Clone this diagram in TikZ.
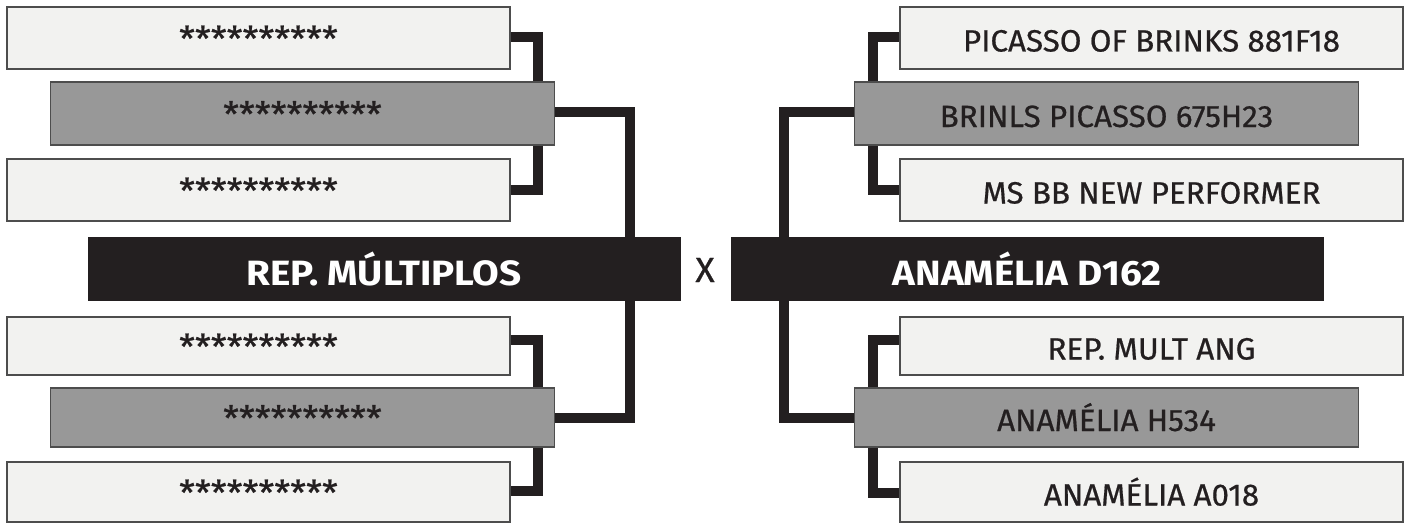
\documentclass[tikz,border=0pt]{standalone}
\usepackage{fontspec}
\setmainfont{Fira Sans}
\newfontfamily\seedfont{Fira Sans}[FakeStretch=1.02, FakeBold=0.6]
\newfontfamily\finalfont{Fira Sans}[FakeStretch=1.1]
\usetikzlibrary{calc,backgrounds}
\definecolor{ink}{HTML}{231F20}
\definecolor{pale}{HTML}{F2F2F0}
\definecolor{mid}{HTML}{989898}
\definecolor{rim}{HTML}{4D4D4D}

\begin{document}
\begin{tikzpicture}[x=0.02cm, y=-0.02cm,
      seed/.style={draw=rim, line width=0.7pt, fill=pale, minimum width=10.06cm, minimum height=1.24cm,
                   inner sep=0pt, text=ink, font=\seedfont\fontsize{17.5}{17.5}\selectfont,
                   text height=0.54cm, text depth=0pt},
      winner/.style={seed, fill=mid, minimum width=10.08cm, minimum height=1.26cm},
      masked/.style={font=\seedfont\fontsize{20}{20}\selectfont},
      finalist/.style={draw=ink, fill=ink, minimum width=11.84cm, minimum height=1.26cm, inner sep=0pt,
                       text=white, font=\finalfont\bfseries\fontsize{20}{20}\selectfont,
                       text height=0.66cm, text depth=0pt},
      link/.style={draw=ink, line width=0.2cm}
    ]
      \useasboundingbox (0,0) rectangle (1408,524);

      % Left bracket
      \node[seed, masked] (l1) at (258.5, 38) {**********};
      \node[winner, masked] (l2) at (302.5, 113.5) {**********};
      \node[seed, masked] (l3) at (258.5, 190) {**********};
      \node[finalist] (rep) at (384, 268.5) {REP. MÚLTIPLOS};
      \node[seed, masked, minimum height=1.16cm] (l4) at (258.5, 346) {**********};
      \node[winner, masked, minimum height=1.18cm] (l5) at (302.5, 417.5) {**********};
      \node[seed, masked, minimum height=1.2cm] (l6) at (258.5, 492) {**********};

      % Right bracket
      \node[seed] (r1) at (1151.5, 38) {PICASSO OF BRINKS 881F18};
      \node[winner] (r2) at (1106.5, 113.5) {BRINLS PICASSO 675H23};
      \node[seed] (r3) at (1151.5, 190) {MS BB NEW PERFORMER};
      \node[finalist] (ana) at (1027, 268.5) {ANAMÉLIA D162};
      \node[seed, minimum height=1.16cm] (r4) at (1151.5, 346) {REP. MULT ANG};
      \node[winner, minimum height=1.18cm] (r5) at (1106.5, 417.5) {ANAMÉLIA H534};
      \node[seed, minimum height=1.2cm] (r6) at (1151.5, 492) {ANAMÉLIA A018};

      \node[text=ink, font=\seedfont\fontsize{20}{20}\selectfont] (vs) at (705, 270) {X};

      % Connectors
      \begin{scope}[on background layer]
        \draw[link] ([yshift=0.02cm]l1.east) -- ++(27,0) |- (l3.east);
        \draw[link] ([yshift=0.12cm]l4.east) -- ++(27,0) |- ([yshift=0.02cm]l6.east);
        \draw[link] ([yshift=0.04cm]l2.east) -| ($(rep.east)+(-50,0)$) |- (l5.east);

        \draw[link] ([yshift=0.02cm]r1.west) -- ++(-26,0) |- (r3.west);
        \draw[link] ([yshift=0.12cm]r4.west) -- ++(-26,0) |- ([yshift=-0.02cm]r6.west);
        \draw[link] ([yshift=0.04cm]r2.west) -| ($(ana.west)+(53,0)$) |- (r5.west);
      \end{scope}
    \end{tikzpicture}
\end{document}
